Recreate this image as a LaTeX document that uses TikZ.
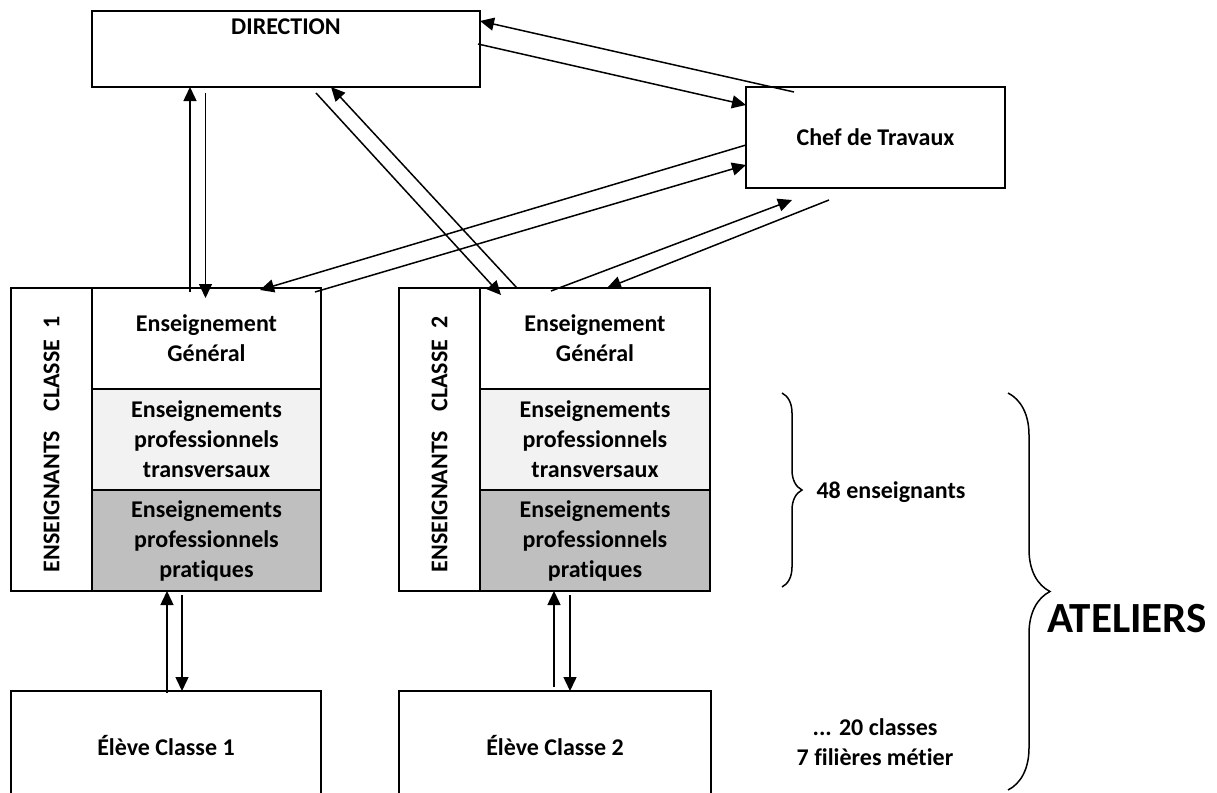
\documentclass[tikz,border=0pt]{standalone}
\usepackage{fontspec}
\setmainfont[Ligatures=CommonOff]{Carlito}
\usetikzlibrary{positioning,arrows.meta,decorations.pathreplacing}
\definecolor{grisclair}{HTML}{F2F2F2}
\definecolor{grisfonce}{HTML}{BFBFBF}
\tikzstyle{mybox} = [draw=black, line width=2pt, rectangle, fill=white,
    inner sep=0pt, outer sep=0pt, align=center,
    font=\fontsize{24}{30}\selectfont\bfseries]
\tikzstyle{mycell} = [mybox, minimum height=101]
\tikzstyle{myarrow} = [line width=1.5pt, -{Triangle[length=14pt,width=13pt]}]
\tikzstyle{mybrace} = [line width=1.5pt, decorate]
\tikzstyle{mytext} = [align=center, font=\fontsize{24}{30}\selectfont\bfseries]

\begin{document}
\begin{tikzpicture}[x=1pt, y=-1pt]
    \useasboundingbox (0,0) rectangle (1217,792);
    \clip (0,0) rectangle (1217,792);
    % direction et chef de travaux
    \node [mybox, minimum width=388, minimum height=76,
        label={[mytext, anchor=center, yshift=-16pt]north:DIRECTION}] (dir) at (286,49) {};
    \node [mybox, minimum width=259, minimum height=101] (chef) at (875.5,137.5) {Chef de Travaux};
    % enseignants classe 1
    \node [mycell, minimum width=229] (gen1) at (206.5,338.5) {Enseignement\\Général};
    \node [mycell, minimum width=229, fill=grisclair, below=0pt of gen1] (tra1) {Enseignements\\professionnels\\transversaux};
    \node [mycell, minimum width=229, fill=grisfonce, below=0pt of tra1] (pra1) {Enseignements\\professionnels\\pratiques};
    \node [mybox, minimum width=81, minimum height=303, left=0pt of tra1,
        label={[mytext, yshift=-5pt, rotate=90, anchor=center]center:ENSEIGNANTS\hspace{0.8em}CLASSE\ \ 1}] (side1) {};
    % enseignants classe 2
    \node [mycell, minimum width=230] (gen2) at (595,338.5) {Enseignement\\Général};
    \node [mycell, minimum width=230, fill=grisclair, below=0pt of gen2] (tra2) {Enseignements\\professionnels\\transversaux};
    \node [mycell, minimum width=230, fill=grisfonce, below=0pt of tra2] (pra2) {Enseignements\\professionnels\\pratiques};
    \node [mybox, minimum width=81, minimum height=303, left=0pt of tra2,
        label={[mytext, yshift=-5pt, rotate=90, anchor=center]center:ENSEIGNANTS\hspace{0.8em}CLASSE\ \ 2}] (side2) {};
    % eleves
    \node [mybox, minimum width=310, minimum height=108] (eleve1) at (166,745) {Élève Classe 1};
    \node [mybox, minimum width=312, minimum height=108] (eleve2) at (555,745) {Élève Classe 2};
    % fleches
    \draw [myarrow] ([xshift=-16.5pt,yshift=-4pt]gen1.north) -- ([xshift=-96pt]dir.south);
    \draw [myarrow] ([xshift=-80.5pt,yshift=-6pt]dir.south) -- ([xshift=-1pt,yshift=-10pt]gen1.north);
    \draw [myarrow] ([xshift=30pt,yshift=-6pt]dir.south) -- ([xshift=-94pt,yshift=-7pt]gen2.north);
    \draw [myarrow] ([xshift=-78pt]gen2.north) -- ([xshift=45pt]dir.south);
    \draw [myarrow] ([xshift=-81.5pt,yshift=-5pt]chef.north) -- ([yshift=28pt]dir.east);
    \draw [myarrow] ([xshift=-2pt,yshift=5pt]dir.east) -- ([yshift=32.5pt]chef.west);
    \draw [myarrow] ([yshift=-7.5pt]chef.west) -- ([xshift=53.5pt,yshift=-2pt]gen1.north);
    \draw [myarrow] ([xshift=-6pt,yshift=-4pt]gen1.north east) -- ([yshift=-27.5pt]chef.west);
    \draw [myarrow] ([xshift=-44pt,yshift=-3pt]gen2.north) -- ([xshift=-83.5pt,yshift=-12pt]chef.south);
    \draw [myarrow] ([xshift=-46.5pt,yshift=-12pt]chef.south) -- ([xshift=12pt]gen2.north);
    \draw [myarrow] ([xshift=1pt,yshift=-2pt]eleve1.north) -- ([xshift=-39.5pt]pra1.south);
    \draw [myarrow] ([xshift=-24.5pt,yshift=-4pt]pra1.south) -- ([xshift=16pt]eleve1.north);
    \draw [myarrow] ([xshift=-1pt,yshift=4pt]eleve2.north) -- ([xshift=-41pt]pra2.south);
    \draw [myarrow] ([xshift=-25pt,yshift=-4pt]pra2.south) -- ([xshift=15pt]eleve2.north);
    % accolades
    \draw [mybrace, decoration={brace, amplitude=20pt}] (782,393) -- (782,587);
    \draw [mybrace, decoration={brace, amplitude=42pt}] (1008,393) -- (1008,790);
    \node [mytext] (nbens) at (891,492) {48 enseignants};
    \node [mytext] (nbclasses) at (875,742.5) {... 20 classes\\7 filières métier};
    \node [mytext, font=\fontsize{43}{50}\selectfont\bfseries] (ateliers) at (1127,619) {ATELIERS};
\end{tikzpicture}
\end{document}
